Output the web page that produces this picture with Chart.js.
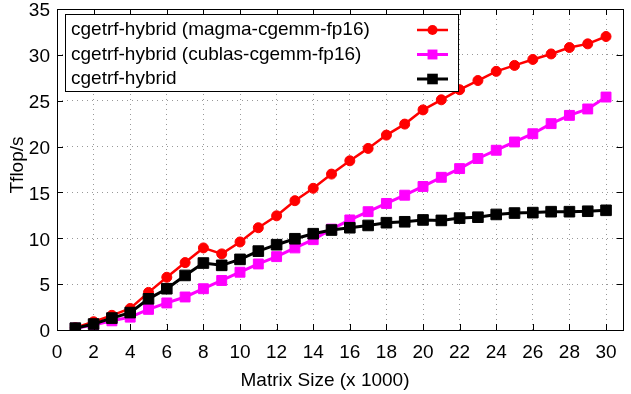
<!DOCTYPE html>
<html><head><meta charset="utf-8">
<script src="https://cdn.jsdelivr.net/npm/chart.js@4/dist/chart.umd.min.js"></script>
<style>html,body{margin:0;padding:0;background:#fff;overflow:hidden}#wrap{width:631px;height:394px;position:relative}</style>
</head><body><div id="wrap"><canvas id="c" width="631" height="394"></canvas></div>
<script>
const matrixSizes = [1,2,3,4,5,6,7,8,9,10,11,12,13,14,15,16,17,18,19,20,21,22,23,24,25,26,27,28,29,30];
const magmaFp16 = [0.25,0.9,1.6,2.35,4.1,5.75,7.35,8.95,8.3,9.6,11.15,12.45,14.1,15.45,17.0,18.45,19.8,21.25,22.45,24.0,25.1,26.2,27.2,28.2,28.85,29.5,30.1,30.8,31.2,32.0];
const cublasFp16 = [0.2,0.55,1.0,1.4,2.25,2.95,3.6,4.5,5.4,6.3,7.2,8.0,8.95,9.85,11.0,12.0,12.9,13.8,14.7,15.65,16.65,17.6,18.7,19.6,20.5,21.4,22.5,23.4,24.1,25.4];
const hybridOnly = [0.2,0.65,1.3,1.9,3.4,4.5,5.95,7.3,7.05,7.7,8.6,9.3,9.95,10.5,10.9,11.15,11.4,11.7,11.8,12.0,11.95,12.2,12.3,12.6,12.75,12.8,12.9,12.9,12.95,13.05];
const seriesLabels = ['cgetrf-hybrid (magma-cgemm-fp16)','cgetrf-hybrid (cublas-cgemm-fp16)','cgetrf-hybrid'];
const seriesColors = ['#ff0000','#ff00ff','#000000'];
const xTickValues = [0,2,4,6,8,10,12,14,16,18,20,22,24,26,28,30];
const yTickValues = [0,5,10,15,20,25,30,35];
const xTitle = 'Matrix Size (x 1000)';
const yTitle = 'Tflop/s';

const FONT = '"Liberation Sans", Arial, Helvetica, sans-serif';
const FS = 19;
const pts = arr => matrixSizes.map((x, i) => ({x: x, y: arr[i]}));

const datasets = [
  {label: seriesLabels[0], data: pts(magmaFp16), borderColor: seriesColors[0], backgroundColor: seriesColors[0],
   borderWidth: 2.5, pointStyle: 'circle', pointRadius: 5, pointBorderWidth: 1, order: 2},
  {label: seriesLabels[1], data: pts(cublasFp16), borderColor: seriesColors[1], backgroundColor: seriesColors[1],
   borderWidth: 3, pointStyle: 'rect', pointRadius: 7, pointBorderWidth: 1, order: 1},
  {label: seriesLabels[2], data: pts(hybridOnly), borderColor: seriesColors[2], backgroundColor: seriesColors[2],
   borderWidth: 3, pointStyle: 'rect', pointRadius: 7.5, pointBorderWidth: 1, order: 0}
];

const framePlugin = {
  id: 'frame',
  afterDraw(chart) {
    const ctx = chart.ctx;
    const a = chart.chartArea;
    const xs = chart.scales.x, ys = chart.scales.y;
    ctx.save();
    ctx.strokeStyle = '#000';
    ctx.lineWidth = 1;
    ctx.beginPath();
    xTickValues.forEach(v => {
      const px = Math.round(xs.getPixelForValue(v)) + 0.5;
      ctx.moveTo(px, a.bottom); ctx.lineTo(px, a.bottom - 6);
      ctx.moveTo(px, a.top); ctx.lineTo(px, a.top + 6);
    });
    yTickValues.forEach(v => {
      const py = Math.round(ys.getPixelForValue(v)) + 0.5;
      ctx.moveTo(a.left, py); ctx.lineTo(a.left + 6, py);
      ctx.moveTo(a.right, py); ctx.lineTo(a.right - 6, py);
    });
    ctx.stroke();
    ctx.strokeRect(Math.round(a.left) + 0.5, Math.round(a.top) + 0.5, Math.round(a.right - a.left), Math.round(a.bottom - a.top));

    const bx = 65.5, by = 14.5, bw = 393, bh = 77;
    ctx.fillStyle = '#fff';
    ctx.fillRect(bx, by, bw, bh);
    ctx.strokeStyle = '#000';
    ctx.strokeRect(bx, by, bw, bh);
    ctx.font = FS + 'px ' + FONT;
    ctx.textBaseline = 'middle';
    ctx.textAlign = 'left';
    const rows = [30, 54.5, 79];
    chart.data.datasets.forEach((ds, i) => {
      const y = rows[i];
      ctx.fillStyle = '#000';
      ctx.fillText(ds.label, 71, y);
      ctx.strokeStyle = ds.borderColor;
      ctx.lineWidth = ds.borderWidth;
      ctx.beginPath();
      ctx.moveTo(417, y); ctx.lineTo(448, y);
      ctx.stroke();
      ctx.fillStyle = ds.backgroundColor;
      if (ds.pointStyle === 'circle') {
        ctx.beginPath(); ctx.arc(432.5, y, ds.pointRadius, 0, Math.PI * 2); ctx.fill();
      } else {
        const s = ds.pointRadius * Math.SQRT1_2;
        ctx.fillRect(432.5 - s, y - s, 2 * s, 2 * s);
      }
    });

    ctx.fillStyle = '#000';
    ctx.font = FS + 'px ' + FONT;
    ctx.textAlign = 'center';
    ctx.textBaseline = 'middle';
    ctx.fillText(xTitle, 325, 381);
    ctx.save();
    ctx.translate(18, 165);
    ctx.rotate(-Math.PI / 2);
    ctx.fillText(yTitle, 0, 0);
    ctx.restore();
    ctx.restore();
  }
};

new Chart(document.getElementById('c'), {
  type: 'line',
  data: {datasets: datasets},
  plugins: [framePlugin],
  options: {
    responsive: false,
    animation: false,
    devicePixelRatio: 1,
    layout: {padding: {top: 9, right: 0, bottom: 0, left: 0}},
    plugins: {legend: {display: false}, tooltip: {enabled: false}, title: {display: false}},
    elements: {line: {tension: 0}},
    scales: {
      x: {
        type: 'linear', min: 0, max: 30.9,
        afterBuildTicks: s => { s.ticks = xTickValues.map(v => ({value: v})); },
        afterFit: s => { s.height = 64; s.paddingLeft = 0; s.paddingRight = 0; },
        ticks: {font: {family: FONT, size: FS}, color: '#000', padding: 11, maxRotation: 0, autoSkip: false},
        grid: {color: '#999', lineWidth: 1, drawTicks: false},
        border: {display: false, dash: [1, 4]}
      },
      y: {
        type: 'linear', min: 0, max: 35,
        afterBuildTicks: s => { s.ticks = yTickValues.map(v => ({value: v})); },
        afterFit: s => { s.width = 57; s.paddingTop = 0; s.paddingBottom = 0; },
        ticks: {font: {family: FONT, size: FS}, color: '#000', padding: 7, labelOffset: 2},
        grid: {color: '#999', lineWidth: 1, drawTicks: false},
        border: {display: false, dash: [1, 4]}
      }
    }
  }
});
</script></body></html>
